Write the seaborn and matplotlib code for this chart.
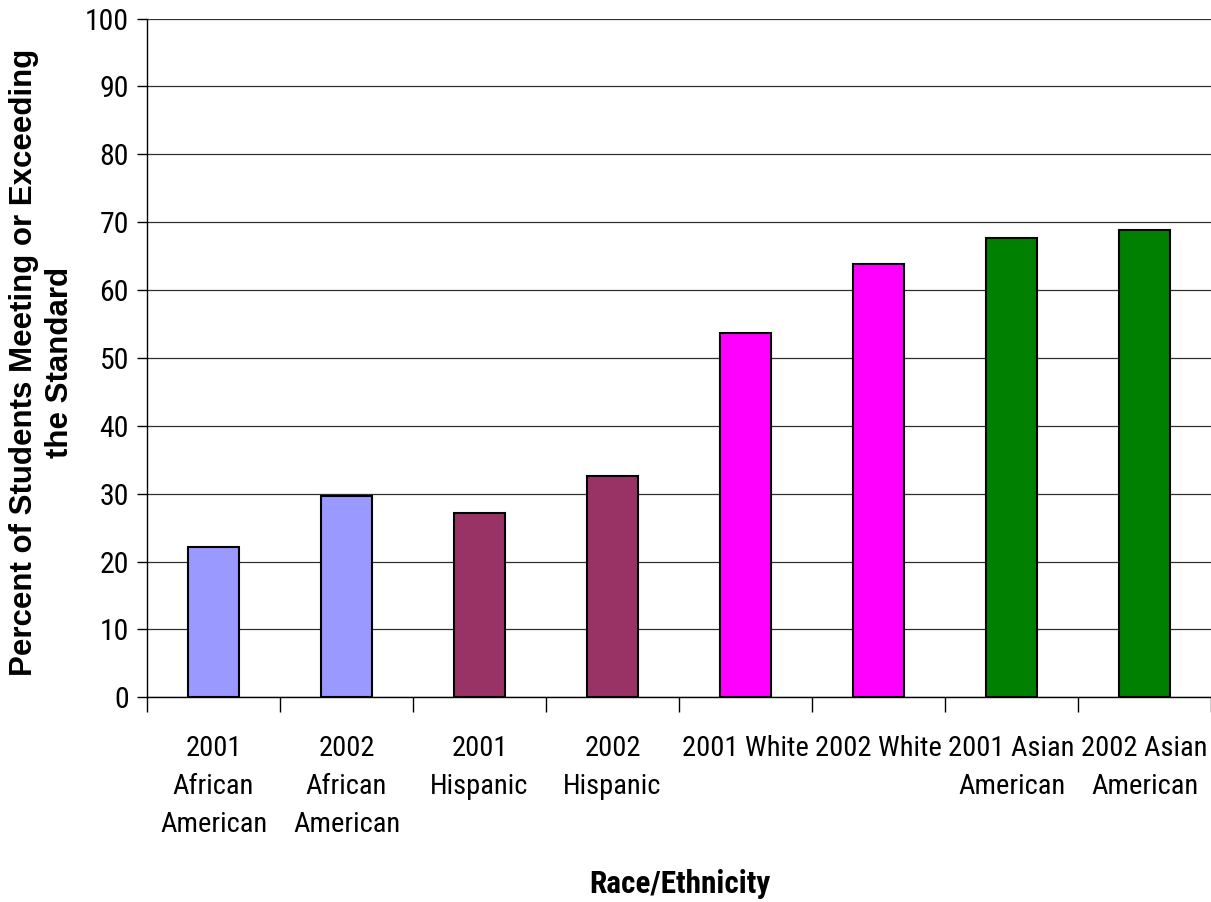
import matplotlib
matplotlib.use('Agg')
import matplotlib.pyplot as plt
import seaborn as sns
import pandas as pd

categories = ["2001\nAfrican\nAmerican", "2002\nAfrican\nAmerican", "2001\nHispanic", "2002\nHispanic",
              "2001 White", "2002 White", "2001 Asian\nAmerican", "2002 Asian\nAmerican"]
values = [22.1, 29.7, 27.2, 32.6, 53.7, 63.9, 67.7, 68.9]
colors = ["#9999FF", "#9999FF", "#993366", "#993366", "#FF00FF", "#FF00FF", "#008000", "#008000"]
yticks = [0, 10, 20, 30, 40, 50, 60, 70, 80, 90, 100]

sns.set_theme(style='white')
plt.rcParams['font.family'] = ['Roboto Condensed', 'Liberation Sans', 'DejaVu Sans']
plt.rcParams['text.color'] = 'black'
plt.rcParams['xtick.color'] = 'black'
plt.rcParams['ytick.color'] = 'black'

W, H = 1211, 902
fig = plt.figure(figsize=(W / 100, H / 100), dpi=100)
ax = fig.add_axes([147 / W, 1 - 697.3 / H, (W - 147) / W, (697.3 - 18.6) / H])

df = pd.DataFrame({'cat': categories, 'val': values})
sns.barplot(data=df, x='cat', y='val', hue='cat', palette=colors, legend=False,
            width=0.39, edgecolor='black', linewidth=1.5, saturation=1, ax=ax, zorder=3)

ax.set_xlim(-0.5, 7.5)
ax.set_ylim(0, 100)
ax.set_yticks(yticks)
ax.set_yticklabels([str(v) for v in yticks])
ax.yaxis.grid(True, color='#303030', lw=0.9)
ax.xaxis.grid(False)
ax.set_axisbelow(True)

for s in ['top', 'right']:
    ax.spines[s].set_visible(False)
for s in ['left', 'bottom']:
    ax.spines[s].set_color('black')
    ax.spines[s].set_linewidth(1.0)

ax.set_xticks(range(len(categories)))
ax.set_xticklabels(categories, fontsize=20.5, linespacing=1.52)
ax.set_xticks([i - 0.5 for i in range(len(categories) + 1)], minor=True)
ax.tick_params(axis='x', which='major', length=0, pad=27, bottom=True, labelcolor='black')
ax.tick_params(axis='x', which='minor', length=11, width=1, color='black', direction='out', bottom=True)
ax.tick_params(axis='y', which='major', length=7, width=1, color='black', direction='out', left=True,
               pad=6, labelsize=21.5, labelcolor='black')
ax.set_xlabel('')
ax.set_ylabel('')

fig.text(680 / W, 1 - 884 / H, 'Race/Ethnicity', ha='center', va='center', color='black',
         fontsize=22.5, fontweight='bold', family=['Roboto Condensed', 'DejaVu Sans'])
fig.text(42 / W, 1 - 362 / H, 'Percent of Students Meeting or Exceeding\nthe Standard',
         rotation=90, ha='center', va='center', multialignment='center', linespacing=1.3,
         fontsize=22.5, fontweight='bold', color='black', family=['Liberation Sans', 'DejaVu Sans'])

fig.savefig('out.png', dpi=100)
